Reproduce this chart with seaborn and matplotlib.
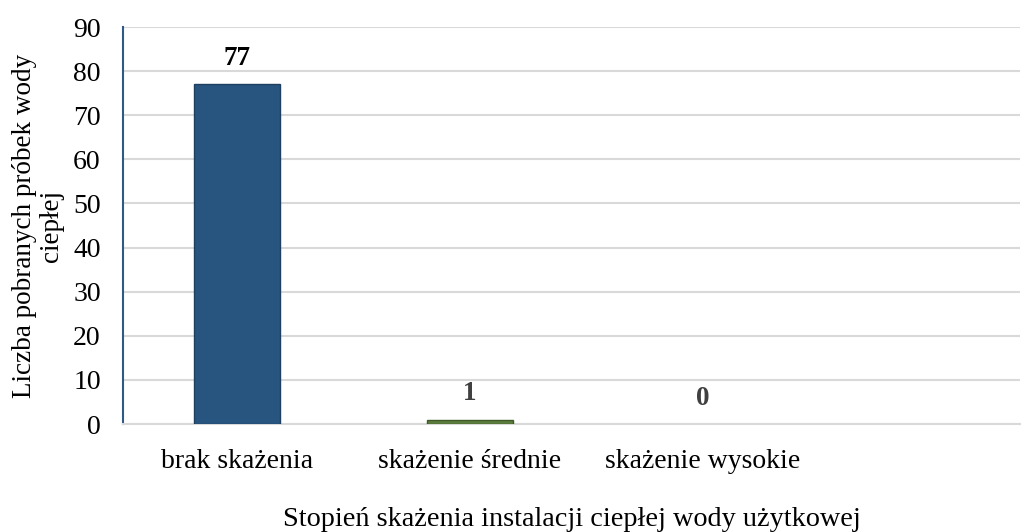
import matplotlib
matplotlib.use("Agg")
import matplotlib.pyplot as plt
import seaborn as sns
import pandas as pd

# Data
categories = ["brak skażenia", "skażenie średnie", "skażenie wysokie"]
counts = [77, 1, 0]
bar_colors = ["#28557F", "#5C7C3E", "#A5A5A5"]
edge_colors = ["#1E3F5F", "#3F5A28", "none"]
label_colors = ["#000000", "#404040", "#404040"]
y_ticks = [0, 10, 20, 30, 40, 50, 60, 70, 80, 90]

df = pd.DataFrame({"kategoria": categories, "liczba": counts})

sns.set_theme(style="white")
plt.rcParams["font.family"] = ["Liberation Serif", "DejaVu Serif"]

fig = plt.figure(figsize=(10.35, 5.32), dpi=100)
ax = fig.add_axes([0.1188, 0.203, 0.8667, 0.7462])

sns.barplot(
    data=df, x="kategoria", y="liczba", hue="kategoria",
    order=categories, hue_order=categories,
    palette=bar_colors, width=0.37, legend=False, ax=ax,
    saturation=1, zorder=3,
)

# darker outline around each bar (none on the empty one)
for patch, ec, v in zip(ax.patches, edge_colors, counts):
    patch.set_edgecolor(ec)
    patch.set_linewidth(1.0 if v > 0 else 0)

# value labels above bars
for i, (v, c) in enumerate(zip(counts, label_colors)):
    ax.annotate(str(v), xy=(i, v), xytext=(0, 18.5), textcoords="offset points",
                ha="center", va="center", fontsize=19.5, fontweight="bold", color=c)

ax.set_xlim(-0.489, 3.36)
ax.set_ylim(0, 90)
ax.set_yticks(y_ticks)
ax.yaxis.grid(True, color="#D9D9D9", linewidth=1.5, zorder=0)
ax.xaxis.grid(False)
ax.set_axisbelow(True)

for side in ["top", "right"]:
    ax.spines[side].set_visible(False)
ax.spines["left"].set_color("#2F5A88")
ax.spines["left"].set_linewidth(1.5)
ax.spines["bottom"].set_color("#D9D9D9")
ax.spines["bottom"].set_linewidth(1.5)

ax.tick_params(axis="both", length=0, labelsize=20, colors="#000000")
ax.tick_params(axis="y", pad=16)
ax.tick_params(axis="x", pad=18)

ax.set_xlabel("Stopień skażenia instalacji ciepłej wody użytkowej",
              fontsize=20.3, labelpad=24, color="#000000")
ax.set_ylabel("Liczba pobranych próbek wody\nciepłej",
              fontsize=19.5, linespacing=1.1, color="#000000")
ax.yaxis.set_label_coords(-0.066, 0.5)

fig.savefig("out.png", dpi=100, facecolor="white")
